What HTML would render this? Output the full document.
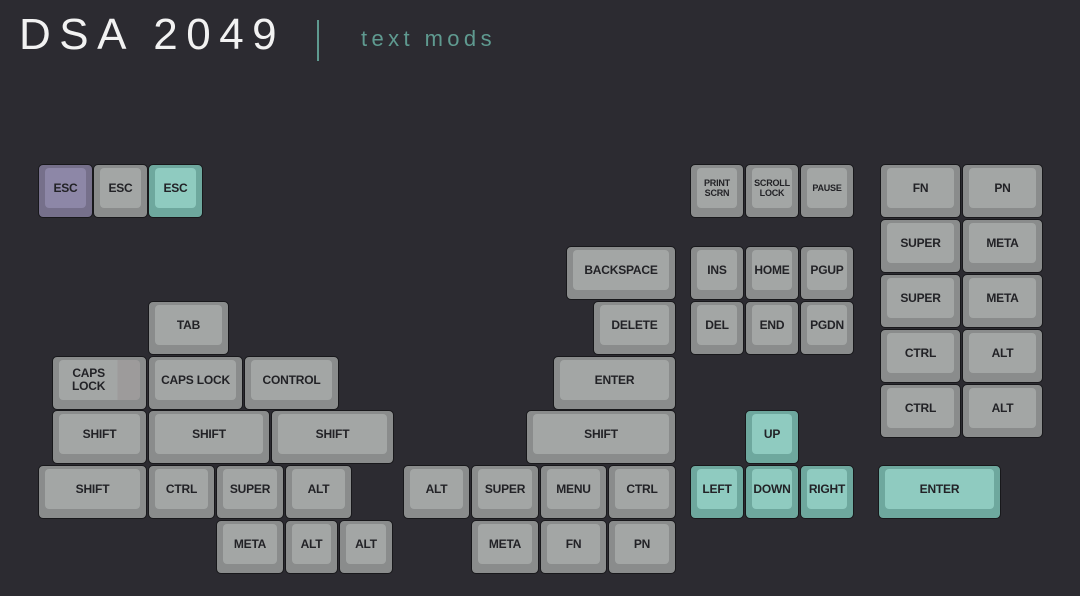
<!DOCTYPE html>
<html><head><meta charset="utf-8"><style>
html,body{margin:0;padding:0}
body{width:1080px;height:596px;background:#2c2b31;position:relative;overflow:hidden;font-family:"Liberation Sans",sans-serif}
.k{position:absolute;box-sizing:border-box;border:1.5px solid #18181b;border-radius:5px;background:#8a8c8c}
.k .t{position:absolute;left:6px;right:6px;top:3px;bottom:9px;border-radius:4px;background:#a3a6a5;display:flex;align-items:center;justify-content:center;text-align:center;font-weight:bold;font-size:12px;color:#222226;letter-spacing:-0.2px;line-height:13px}
.k.s .t{font-size:9px;line-height:10px}
.k.p{background:#76708b}.k.p .t{background:#8d87a7}
.k.g{background:#6ea89e}.k.g .t{background:#8fcbc0}
.title{position:absolute;left:19px;top:10px;color:#f2f2f2;font-size:44px;letter-spacing:8.5px;font-weight:300;white-space:nowrap}
.bar{position:absolute;left:317px;top:20px;width:2px;height:41px;background:#5f9a90}
.sub{position:absolute;left:361px;top:26px;color:#5f9a90;font-size:22px;letter-spacing:4.4px;white-space:nowrap}
</style></head><body>
<div class="title">DSA 2049</div>
<div class="bar"></div>
<div class="sub">text mods</div>

<div class="k p" style="left:38px;top:164px;width:55px;height:54px"><div class="t">ESC</div></div>
<div class="k" style="left:93px;top:164px;width:55px;height:54px"><div class="t">ESC</div></div>
<div class="k g" style="left:148px;top:164px;width:55px;height:54px"><div class="t">ESC</div></div>

<div class="k" style="left:566px;top:246px;width:110px;height:54px"><div class="t">BACKSPACE</div></div>
<div class="k" style="left:148px;top:301px;width:81px;height:54px"><div class="t">TAB</div></div>
<div class="k" style="left:593px;top:301px;width:83px;height:54px"><div class="t">DELETE</div></div>

<div class="k" style="left:52px;top:356px;width:95px;height:54px"><div class="t" style="justify-content:flex-start;padding-left:13px;background:linear-gradient(90deg,#a3a6a5 0,#a3a6a5 72%,#9d9b9b 72%)">CAPS<br>LOCK</div></div>
<div class="k" style="left:148px;top:356px;width:95px;height:54px"><div class="t">CAPS LOCK</div></div>
<div class="k" style="left:244px;top:356px;width:95px;height:54px"><div class="t">CONTROL</div></div>
<div class="k" style="left:553px;top:356px;width:123px;height:54px"><div class="t">ENTER</div></div>

<div class="k" style="left:52px;top:410px;width:95px;height:54px"><div class="t">SHIFT</div></div>
<div class="k" style="left:148px;top:410px;width:122px;height:54px"><div class="t">SHIFT</div></div>
<div class="k" style="left:271px;top:410px;width:123px;height:54px"><div class="t">SHIFT</div></div>
<div class="k" style="left:526px;top:410px;width:150px;height:54px"><div class="t">SHIFT</div></div>

<div class="k" style="left:38px;top:465px;width:109px;height:54px"><div class="t">SHIFT</div></div>
<div class="k" style="left:148px;top:465px;width:67px;height:54px"><div class="t">CTRL</div></div>
<div class="k" style="left:216px;top:465px;width:68px;height:54px"><div class="t">SUPER</div></div>
<div class="k" style="left:285px;top:465px;width:67px;height:54px"><div class="t">ALT</div></div>
<div class="k" style="left:403px;top:465px;width:67px;height:54px"><div class="t">ALT</div></div>
<div class="k" style="left:471px;top:465px;width:68px;height:54px"><div class="t">SUPER</div></div>
<div class="k" style="left:540px;top:465px;width:67px;height:54px"><div class="t">MENU</div></div>
<div class="k" style="left:608px;top:465px;width:68px;height:54px"><div class="t">CTRL</div></div>

<div class="k" style="left:216px;top:520px;width:68px;height:54px"><div class="t">META</div></div>
<div class="k" style="left:285px;top:520px;width:53px;height:54px"><div class="t">ALT</div></div>
<div class="k" style="left:339px;top:520px;width:54px;height:54px"><div class="t">ALT</div></div>
<div class="k" style="left:471px;top:520px;width:68px;height:54px"><div class="t">META</div></div>
<div class="k" style="left:540px;top:520px;width:67px;height:54px"><div class="t">FN</div></div>
<div class="k" style="left:608px;top:520px;width:68px;height:54px"><div class="t">PN</div></div>

<div class="k s" style="left:690px;top:164px;width:54px;height:54px"><div class="t">PRINT<br>SCRN</div></div>
<div class="k s" style="left:745px;top:164px;width:54px;height:54px"><div class="t">SCROLL<br>LOCK</div></div>
<div class="k s" style="left:800px;top:164px;width:54px;height:54px"><div class="t">PAUSE</div></div>
<div class="k" style="left:690px;top:246px;width:54px;height:54px"><div class="t">INS</div></div>
<div class="k" style="left:745px;top:246px;width:54px;height:54px"><div class="t">HOME</div></div>
<div class="k" style="left:800px;top:246px;width:54px;height:54px"><div class="t">PGUP</div></div>
<div class="k" style="left:690px;top:301px;width:54px;height:54px"><div class="t">DEL</div></div>
<div class="k" style="left:745px;top:301px;width:54px;height:54px"><div class="t">END</div></div>
<div class="k" style="left:800px;top:301px;width:54px;height:54px"><div class="t">PGDN</div></div>

<div class="k g" style="left:745px;top:410px;width:54px;height:54px"><div class="t">UP</div></div>
<div class="k g" style="left:690px;top:465px;width:54px;height:54px"><div class="t">LEFT</div></div>
<div class="k g" style="left:745px;top:465px;width:54px;height:54px"><div class="t">DOWN</div></div>
<div class="k g" style="left:800px;top:465px;width:54px;height:54px"><div class="t">RIGHT</div></div>
<div class="k g" style="left:878px;top:465px;width:123px;height:54px"><div class="t">ENTER</div></div>

<div class="k" style="left:880px;top:164px;width:81px;height:54px"><div class="t">FN</div></div>
<div class="k" style="left:962px;top:164px;width:81px;height:54px"><div class="t">PN</div></div>
<div class="k" style="left:880px;top:219px;width:81px;height:54px"><div class="t">SUPER</div></div>
<div class="k" style="left:962px;top:219px;width:81px;height:54px"><div class="t">META</div></div>
<div class="k" style="left:880px;top:274px;width:81px;height:54px"><div class="t">SUPER</div></div>
<div class="k" style="left:962px;top:274px;width:81px;height:54px"><div class="t">META</div></div>
<div class="k" style="left:880px;top:329px;width:81px;height:54px"><div class="t">CTRL</div></div>
<div class="k" style="left:962px;top:329px;width:81px;height:54px"><div class="t">ALT</div></div>
<div class="k" style="left:880px;top:384px;width:81px;height:54px"><div class="t">CTRL</div></div>
<div class="k" style="left:962px;top:384px;width:81px;height:54px"><div class="t">ALT</div></div>
</body></html>
